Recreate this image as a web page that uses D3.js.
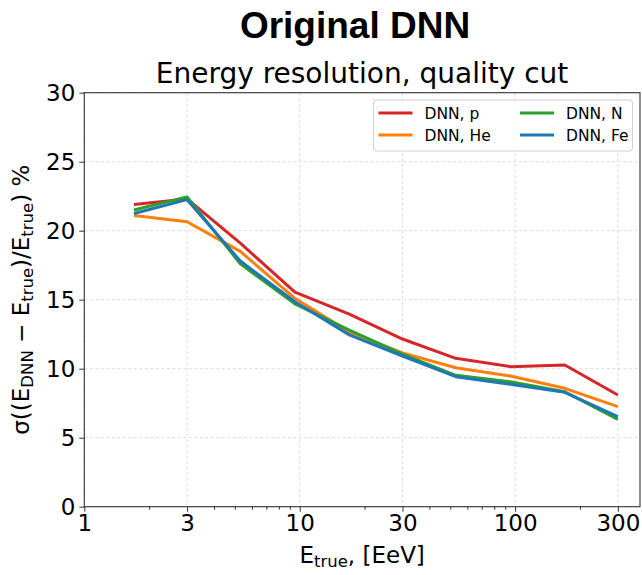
<!DOCTYPE html>
<html>
<head>
<meta charset="utf-8">
<script src="https://cdn.jsdelivr.net/npm/d3@7"></script>
<style>
  html, body { margin: 0; padding: 0; background: #fff; }
  svg { display: block; }
</style>
</head>
<body>
<div id="chart"></div>
<script>
// True energy bin centres, EeV
const energies = [1.7, 3, 5.3, 9.5, 17, 30, 53, 95, 170, 300];

// Energy resolution (%) per primary
const resP  = [21.9, 22.3, 19.1, 15.55, 13.95, 12.15, 10.75, 10.15, 10.27, 8.09];
const resHe = [21.1, 20.65, 18.5, 15.1, 12.65, 11.15, 10.07, 9.47, 8.58, 7.25];
const resN  = [21.5, 22.45, 17.6, 14.7, 12.8, 11.05, 9.52, 9.06, 8.33, 6.33];
const resFe = [21.25, 22.25, 17.8, 14.85, 12.45, 10.92, 9.42, 8.87, 8.29, 6.52];

const seriesNames  = ["DNN, p", "DNN, He", "DNN, N", "DNN, Fe"];
const seriesColors = ["#d62728", "#ff7f0e", "#2ca02c", "#1f77b4"];
const seriesValues = [resP, resHe, resN, resFe];

const xTicks = [1, 3, 10, 30, 100, 300];
const xMinorTicks = [2, 4, 5, 6, 7, 8, 9, 20, 40, 50, 60, 70, 80, 90, 200];
const yTicks = [0, 5, 10, 15, 20, 25, 30];

const W = 642, H = 575;
const plot = { left: 84.3, right: 640, top: 92.7, bottom: 506.7 };
const tickFont = 23;

const svg = d3.select("#chart").append("svg")
  .attr("width", W).attr("height", H)
  .style("font-family", "'DejaVu Sans', sans-serif");

const x = d3.scaleLog().domain([1, 380]).range([plot.left, plot.right]);
const y = d3.scaleLinear().domain([0, 30]).range([plot.bottom, plot.top]);

// grid
const grid = svg.append("g").attr("stroke", "#d9d9d9").attr("stroke-width", 0.9)
  .attr("stroke-dasharray", "3,2.5");
xTicks.forEach(t => grid.append("line")
  .attr("x1", x(t)).attr("x2", x(t)).attr("y1", plot.top).attr("y2", plot.bottom));
yTicks.forEach(t => grid.append("line")
  .attr("x1", plot.left).attr("x2", plot.right).attr("y1", y(t)).attr("y2", y(t)));

// series lines
const line = d3.line().x(d => x(d[0])).y(d => y(d[1]));
seriesValues.forEach((vals, i) => {
  svg.append("path")
    .datum(energies.map((e, k) => [e, vals[k]]))
    .attr("fill", "none")
    .attr("stroke", seriesColors[i])
    .attr("stroke-width", 3)
    .attr("stroke-linejoin", "round")
    .attr("d", line);
});

// axes
svg.append("g").attr("transform", `translate(0,${plot.bottom})`)
  .call(d3.axisBottom(x).tickValues(xTicks).tickFormat(d3.format("d")).tickSize(5).tickPadding(3));
svg.append("g").attr("transform", `translate(0,${plot.bottom})`)
  .call(d3.axisBottom(x).tickValues(xMinorTicks).tickFormat("").tickSize(3))
  .call(g => g.select(".domain").remove());
svg.append("g").attr("transform", `translate(${plot.left},0)`)
  .call(d3.axisLeft(y).tickValues(yTicks).tickSize(5).tickPadding(4));

svg.selectAll(".tick text").attr("font-size", tickFont).attr("fill", "#000")
  .style("font-family", "'DejaVu Sans', sans-serif");
svg.selectAll(".tick line").attr("stroke", "#333");
svg.selectAll(".domain").attr("stroke", "none");

// frame
svg.append("rect")
  .attr("x", plot.left).attr("y", plot.top)
  .attr("width", plot.right - plot.left).attr("height", plot.bottom - plot.top)
  .attr("fill", "none").attr("stroke", "#333").attr("stroke-width", 1.1);

// titles
svg.append("text").attr("x", 355).attr("y", 38).attr("text-anchor", "middle")
  .style("font-family", "'Liberation Sans', Arial, sans-serif")
  .attr("font-weight", "bold").attr("font-size", 37).text("Original DNN");
svg.append("text").attr("x", 362).attr("y", 83).attr("text-anchor", "middle")
  .attr("font-size", 28).text("Energy resolution, quality cut");

// x label
const xl = svg.append("text").attr("x", (plot.left + plot.right) / 2).attr("y", 563)
  .attr("text-anchor", "middle").attr("font-size", tickFont);
xl.append("tspan").text("E");
xl.append("tspan").attr("font-size", 16.5).attr("dy", 4).text("true");
xl.append("tspan").attr("dy", -4).text(", [EeV]");

// y label
const yl = svg.append("text")
  .attr("transform", `translate(29,${(plot.top + plot.bottom) / 2}) rotate(-90)`)
  .attr("text-anchor", "middle").attr("font-size", tickFont);
yl.append("tspan").text("σ((E");
yl.append("tspan").attr("font-size", 16.5).attr("dy", 4).text("DNN");
yl.append("tspan").attr("dy", -4).text(" − E");
yl.append("tspan").attr("font-size", 16.5).attr("dy", 4).text("true");
yl.append("tspan").attr("dy", -4).text(")/E");
yl.append("tspan").attr("font-size", 16.5).attr("dy", 4).text("true");
yl.append("tspan").attr("dy", -4).text(") %");

// legend
const lg = svg.append("g");
lg.append("rect").attr("x", 373.5).attr("y", 100).attr("width", 259).attr("height", 51)
  .attr("rx", 3).attr("fill", "#fff").attr("fill-opacity", 0.8)
  .attr("stroke", "#d0d0d0").attr("stroke-width", 1);
seriesNames.forEach((name, i) => {
  const col = Math.floor(i / 2), row = i % 2;
  const lx = 378.5 + col * 141.5, ly = 113 + row * 22;
  lg.append("line").attr("x1", lx).attr("x2", lx + 34).attr("y1", ly).attr("y2", ly)
    .attr("stroke", seriesColors[i]).attr("stroke-width", 3);
  lg.append("text").attr("x", lx + 46).attr("y", ly + 5.5).attr("font-size", 15.5).text(name);
});
</script>
</body>
</html>
